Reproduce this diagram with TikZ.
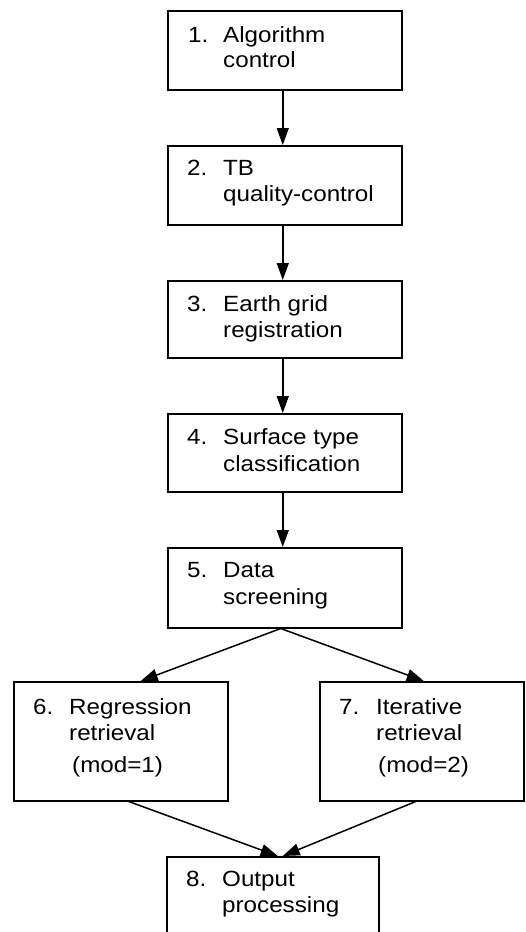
\documentclass[tikz,border=0pt]{standalone}
\usepackage{fontspec}
\setmainfont{Liberation Sans}[FakeStretch=1.1]
\usetikzlibrary{arrows.meta,calc}
\begin{document}
\begin{tikzpicture}[x=1pt,y=-1pt,
  box/.style={draw, line width=1.5pt, inner sep=0pt, anchor=north west},
  lbl/.style={anchor=base west, inner sep=0pt, font=\fontsize{22}{26}\selectfont},
  arr/.style={-{Triangle[length=17pt,width=12pt]}, line width=1.5pt}]
\useasboundingbox (0,0) rectangle (525,932);
\clip (0,0) rectangle (525,932);
% boxes
\node[box, minimum width=234pt, minimum height=79pt] (b1) at (167,10) {};
\node[box, minimum width=234pt, minimum height=79pt] (b2) at (167,145) {};
\node[box, minimum width=234pt, minimum height=77pt] (b3) at (167,280) {};
\node[box, minimum width=234pt, minimum height=78pt] (b4) at (167,413) {};
\node[box, minimum width=234pt, minimum height=80pt] (b5) at (167,547) {};
\node[box, minimum width=214pt, minimum height=119pt] (b6) at (13,681) {};
\node[box, minimum width=204pt, minimum height=119pt] (b7) at (319,681) {};
\node[box, minimum width=212pt, minimum height=110pt] (b8) at (166,856) {};
% labels
\node[lbl] (n1) at (188,42) {1.};
\node[lbl] (t1a) at (223,42) {Algorithm};
\node[lbl] (t1b) at (223,67) {control};
\node[lbl] (n2) at (187,175) {2.};
\node[lbl] (t2a) at (223,175) {TB};
\node[lbl] (t2b) at (223,201) {quality-control};
\node[lbl] (n3) at (187,311) {3.};
\node[lbl] (t3a) at (223,311) {Earth grid};
\node[lbl] (t3b) at (223,337) {registration};
\node[lbl] (n4) at (187,444) {4.};
\node[lbl] (t4a) at (223,444) {Surface type};
\node[lbl] (t4b) at (223,471) {classification};
\node[lbl] (n5) at (187,577) {5.};
\node[lbl] (t5a) at (223,577) {Data};
\node[lbl] (t5b) at (223,604) {screening};
\node[lbl] (n6) at (33,714) {6.};
\node[lbl] (t6a) at (69,714) {Regression};
\node[lbl] (t6b) at (69,740) {retrieval};
\node[lbl] (t6c) at (72,772) {(mod=1)};
\node[lbl] (n7) at (339,714) {7.};
\node[lbl] (t7a) at (376,714) {Iterative};
\node[lbl] (t7b) at (376,740) {retrieval};
\node[lbl] (t7c) at (378,772) {(mod=2)};
\node[lbl] (n8) at (186,886) {8.};
\node[lbl] (t8a) at (222,886) {Output};
\node[lbl] (t8b) at (222,912) {processing};
% connectors
\draw[arr] ([xshift=-2pt]b1.south) -- ([xshift=-2pt]b2.north);
\draw[arr] ([xshift=-2pt]b2.south) -- ([xshift=-2pt]b3.north);
\draw[arr] ([xshift=-2pt]b3.south) -- ([xshift=-2pt]b4.north);
\draw[arr] ([xshift=-2pt]b4.south) -- ([xshift=-2pt]b5.north);
\draw[arr] ([xshift=-4pt]b5.south) -- ([xshift=20pt]b6.north);
\draw[arr] ([xshift=-4pt]b5.south) -- ([xshift=2pt]b7.north);
\draw[arr] ([xshift=8pt]b6.south) -- ([xshift=5pt]b8.north);
\draw[arr] ([xshift=-6pt]b7.south) -- ([xshift=10pt]b8.north);
\end{tikzpicture}
\end{document}
